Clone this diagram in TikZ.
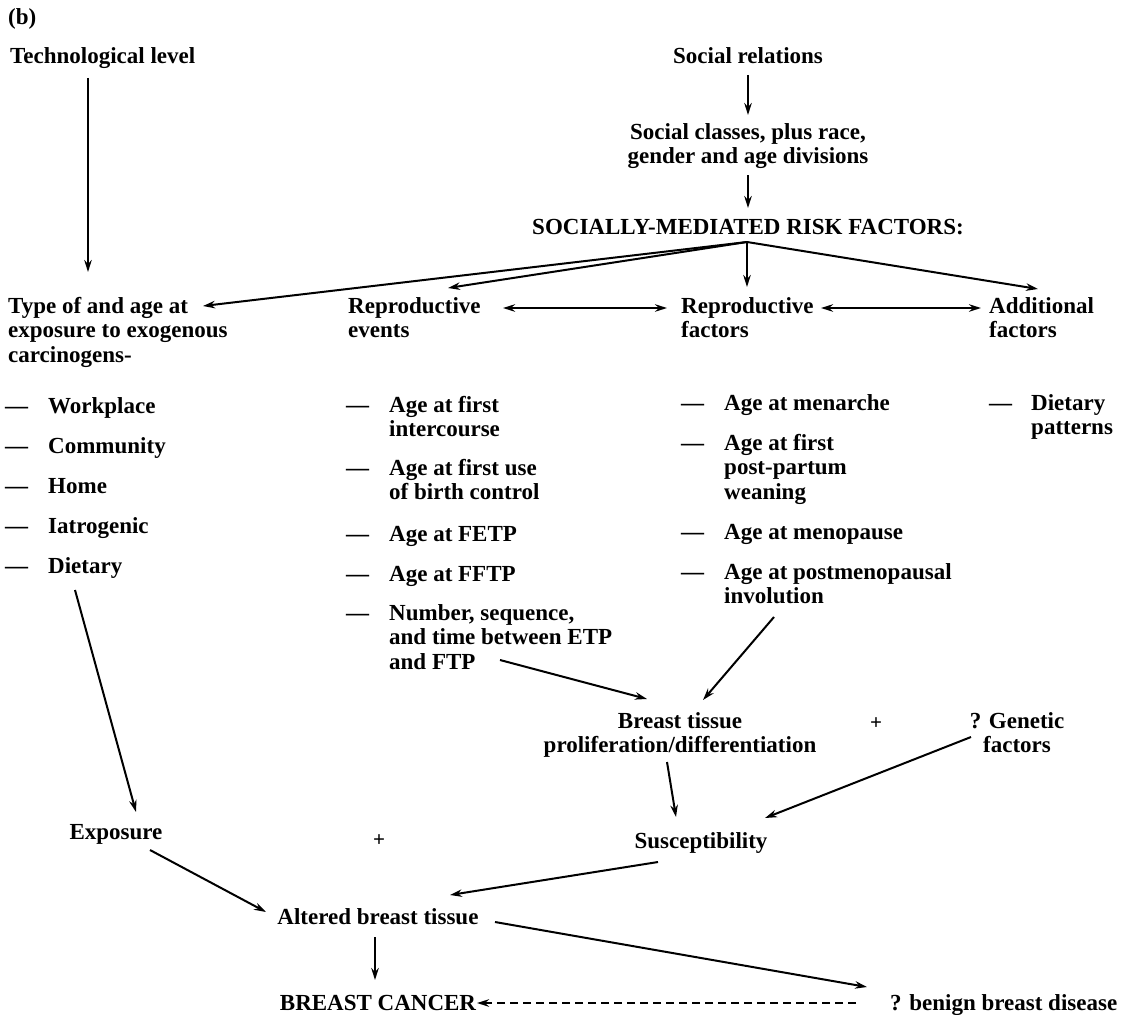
\documentclass[tikz,border=0pt]{standalone}
\usepackage{fontspec}
\setmainfont{Liberation Serif}
\usetikzlibrary{arrows.meta,calc}
\begin{document}
\begin{tikzpicture}[x=1pt,y=-1pt,
  font=\fontsize{23}{24.5}\selectfont\bfseries,
  txt/.style={inner sep=0pt,anchor=base west,align=left},
  ctr/.style={inner sep=0pt,anchor=base,align=center},
  plus/.style={inner sep=0pt,anchor=base,font=\fontsize{21}{21}\selectfont\bfseries},
  arr/.style={-{Stealth[length=12pt,width=7.5pt]},line width=2pt},
  dblarr/.style={{Stealth[length=12pt,width=7.5pt]}-{Stealth[length=12pt,width=7.5pt]},line width=2pt},
  dasharr/.style={arr,dash pattern=on 8pt off 5pt}]
% a dashed list entry: dash at the first baseline, text block ending #5 lines further down
\newcommand\riskitem[6]{%
  \node[txt] (#1-d) at (#2,#4) {—};
  \node[txt] (#1) at (#3,{#4+(#5-1)*24.5}) {#6};}
\useasboundingbox (0,0) rectangle (1123,1014);

% top level (multi-line nodes are placed at the baseline of their last line)
\node[txt] (b) at (8,25) {(b)};
\node[txt] (tech) at (10,64) {Technological level};
\node[ctr] (socrel) at (748,64) {Social relations};
\node[ctr] (socclass) at (748,163.5) {Social classes, plus race,\\gender and age divisions};
\node[ctr] (risk) at (748,234) {SOCIALLY-MEDIATED RISK FACTORS:};

% the four groups of risk factors
\node[txt] (typeexp) at (8,362) {Type of and age at\\exposure to exogenous\\carcinogens-};
\node[txt] (repev) at (348,337.5) {Reproductive\\events};
\node[txt] (repfac) at (681,337.5) {Reproductive\\factors};
\node[txt] (addfac) at (989,337.5) {Additional\\factors};

\riskitem{work}{5}{48}{413}{1}{Workplace}
\riskitem{comm}{5}{48}{453}{1}{Community}
\riskitem{home}{5}{48}{493}{1}{Home}
\riskitem{iatro}{5}{48}{533}{1}{Iatrogenic}
\riskitem{diet}{5}{48}{573}{1}{Dietary}

\riskitem{inter}{346}{389}{412}{2}{Age at first\\intercourse}
\riskitem{birth}{346}{389}{475}{2}{Age at first use\\of birth control}
\riskitem{fetp}{346}{389}{541}{1}{Age at FETP}
\riskitem{fftp}{346}{389}{581}{1}{Age at FFTP}
\riskitem{ftp}{346}{389}{620}{3}{Number, sequence,\\and time between ETP\\and FTP}

\riskitem{menar}{681}{724}{410}{1}{Age at menarche}
\riskitem{wean}{681}{724}{450}{3}{Age at first\\post-partum\\weaning}
\riskitem{menop}{681}{724}{539}{1}{Age at menopause}
\riskitem{invol}{681}{724}{579}{2}{Age at postmenopausal\\involution}

\riskitem{dpat}{989}{1031}{410}{2}{Dietary\\patterns}

% lower part
\node[ctr] (expo) at (116,839) {Exposure};
\node[plus] (plusA) at (379,846) {+};
\node[ctr] (suscept) at (701,848) {Susceptibility};
\node[ctr] (breast) at (680,752.5) {Breast tissue\\proliferation/differentiation};
\node[plus] (plusB) at (876,729) {+};
\node[ctr] (genetic) at (1017,752.5) {? Genetic\\factors};
\node[ctr] (altered) at (378,924) {Altered breast tissue};
\node[ctr] (cancer) at (378,1010) {BREAST CANCER};
\node[txt] (benign) at (890,1010) {? benign breast disease};

% connectors
\draw[arr] ($(tech.base west)+(78,14)$) -- ($(typeexp.base west)+(80,-90)$);
\draw[arr] ($(socrel.base)+(0,11)$) -- ($(socclass.base)+(0,-48.5)$);
\draw[arr] ($(socclass.base)+(0,11.5)$) -- ($(risk.base)+(0,-26)$);
\coordinate (apex) at ($(risk.base)+(-1,8)$);
\draw[arr] (apex) -- ($(typeexp.base west)+(195,-56)$);
\draw[arr] (apex) -- ($(repev.base west)+(100,-49.5)$);
\draw[arr] (apex) -- ($(repfac.base west)+(66,-50.5)$);
\draw[arr] (apex) -- ($(addfac.base west)+(49,-48.5)$);
\draw[dblarr] ($(repev.base west)+(155,-29.5)$) -- ($(repfac.base west)+(-14,-29.5)$);
\draw[dblarr] ($(repfac.base west)+(140,-29.5)$) -- ($(addfac.base west)+(-8,-29.5)$);

\draw[arr] ($(diet.base west)+(27,17)$) -- ($(expo.base)+(20,-27)$);
\draw[arr] ($(ftp.base west)+(111,-9)$) -- ($(breast.base)+(-33,-53.5)$);
\draw[arr] ($(invol.base west)+(50,13.5)$) -- ($(breast.base)+(23,-52.5)$);
\draw[arr] ($(breast.base)+(-13,9.5)$) -- ($(suscept.base)+(-25,-31)$);
\draw[arr] ($(genetic.base)+(-46,-15.5)$) -- ($(suscept.base)+(64,-30)$);
\draw[arr] ($(expo.base)+(34,11)$) -- ($(altered.base)+(-112,-12)$);
\draw[arr] ($(suscept.base)+(-43,14)$) -- ($(altered.base)+(72,-29)$);
\draw[arr] ($(altered.base)+(117,-2)$) -- ($(benign.base west)+(-23,-23)$);
\draw[arr] ($(altered.base)+(-3,13)$) -- ($(cancer.base)+(-3,-30)$);
\draw[dasharr] ($(benign.base west)+(-34,-7)$) -- ($(cancer.base)+(99,-7)$);
\end{tikzpicture}
\end{document}
